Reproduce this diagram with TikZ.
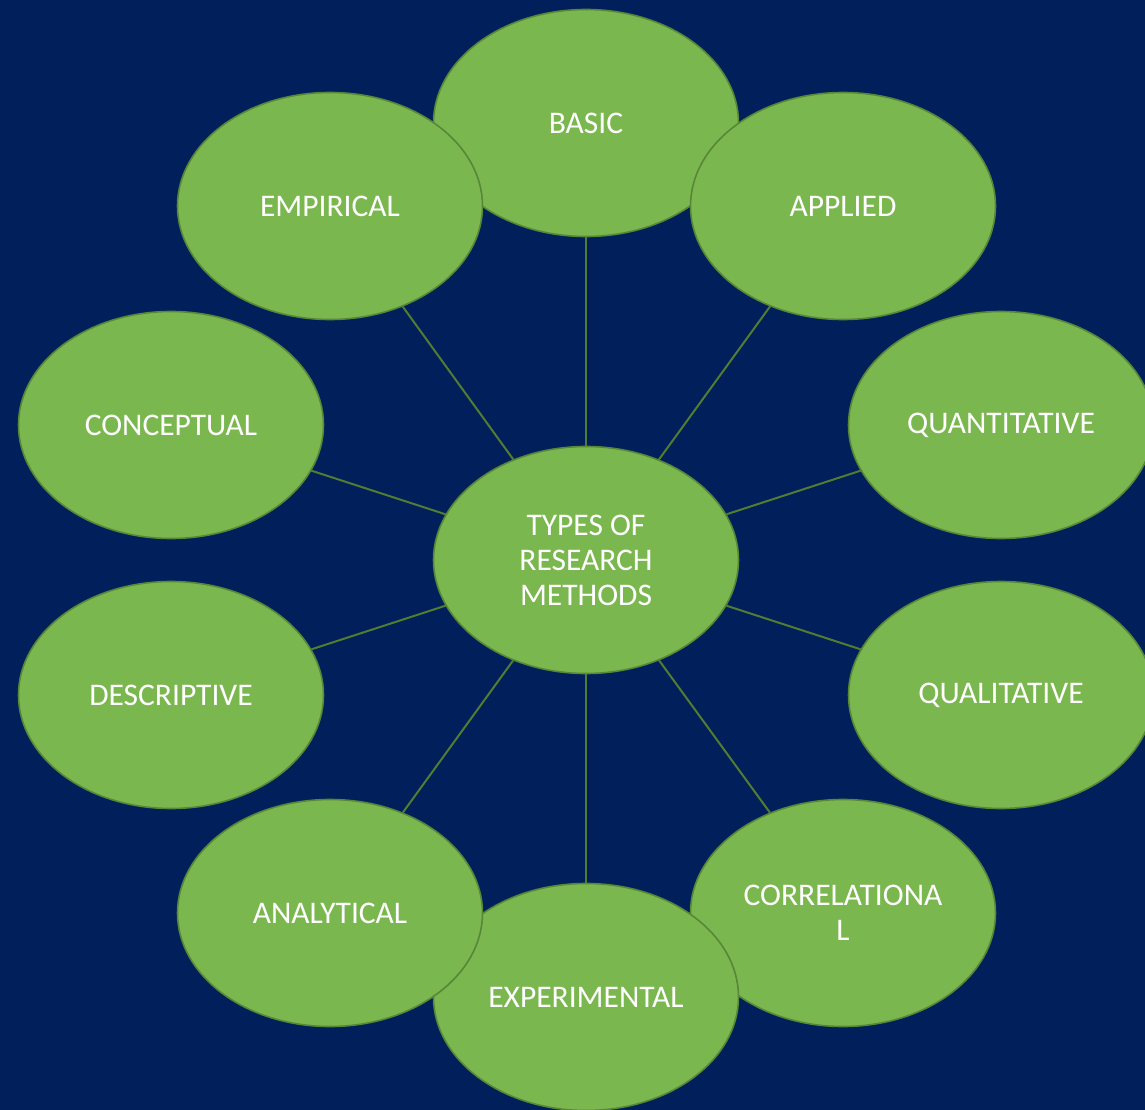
\documentclass[tikz,border=0pt]{standalone}
\usepackage{fontspec}
\setmainfont{Carlito}
\usetikzlibrary{shapes.geometric}
\definecolor{bgnavy}{RGB}{0,31,91}
\definecolor{leaf}{RGB}{122,183,78}
\definecolor{leafdark}{RGB}{88,135,56}
\definecolor{linkgreen}{RGB}{80,125,50}
\pgfdeclarelayer{backdrop}
\pgfdeclarelayer{links}
\pgfsetlayers{backdrop,links,main}
\tikzset{
  bubble/.style={ellipse, draw=leafdark, line width=1.6pt, fill=leaf,
    minimum width=305pt, minimum height=227pt, inner sep=0pt,
    text=white, align=center, font=\fontsize{31.5}{35}\selectfont},
  link/.style={draw=linkgreen, line width=2pt}
}
\begin{document}
\begin{tikzpicture}[x=1pt,y=-1pt]
\begin{pgfonlayer}{backdrop}
\fill[bgnavy] (0,0) rectangle (1145,1110);
\end{pgfonlayer}
\useasboundingbox (0,0) rectangle (1145,1110);
% bubbles, in stacking order
\node[bubble] (basic) at (586,123) {BASIC};
\node[bubble] (applied) at (843,206) {APPLIED};
\node[bubble] (quant) at (1001,425) {QUANTITATIVE};
\node[bubble] (qual) at (1001,695) {QUALITATIVE};
\node[bubble] (correl) at (843,913) {CORRELATIONA\\L};
\node[bubble] (exper) at (586,997) {EXPERIMENTAL};
\node[bubble] (analyt) at (330,913) {ANALYTICAL};
\node[bubble] (descr) at (171,695) {DESCRIPTIVE};
\node[bubble] (concept) at (171,425) {CONCEPTUAL};
\node[bubble] (empir) at (330,206) {EMPIRICAL};
\node[bubble] (c) at (586,560) {TYPES OF\\RESEARCH\\METHODS};
\begin{pgfonlayer}{links}
\foreach \n in {basic,applied,quant,qual,correl,exper,analyt,descr,concept,empir}
  \draw[link] (c) -- (\n);
\end{pgfonlayer}
\end{tikzpicture}
\end{document}
